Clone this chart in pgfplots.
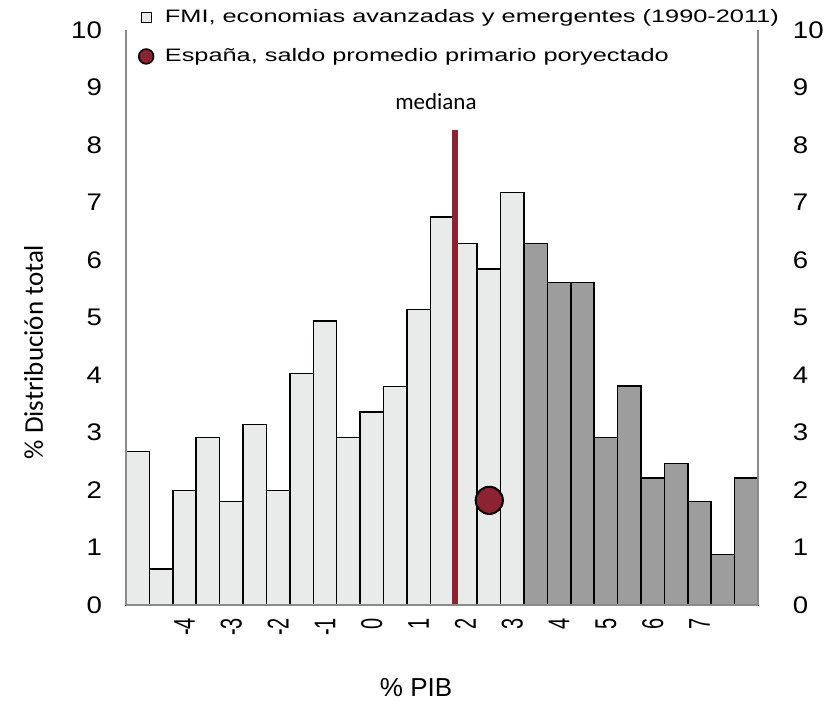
\documentclass[border=0pt]{standalone}
\usepackage{fontspec}
\setmainfont{Liberation Sans}
\newfontfamily\calibri{Carlito}
\usepackage{pgfplots}
\usepackage{pgfplotstable}
\pgfplotsset{compat=1.18}

\definecolor{barlight}{HTML}{E9EAEA}
\definecolor{bardark}{HTML}{9C9D9C}
\definecolor{medred}{HTML}{8B2332}
\definecolor{axgray}{HTML}{8A8A8A}

% histograma: centro de cada barra (% PIB) y porcentaje
\pgfplotstableread{
x h
-5.0 2.67
-4.5 0.63
-4.0 1.99
-3.5 2.91
-3.0 1.80
-2.5 3.14
-2.0 1.99
-1.5 4.03
-1.0 4.94
-0.5 2.91
0.0 3.36
0.5 3.80
1.0 5.14
1.5 6.75
2.0 6.29
2.5 5.84
3.0 7.17
}\lighttab
\pgfplotstableread{
x h
3.5 6.29
4.0 5.61
4.5 5.61
5.0 2.91
5.5 3.81
6.0 2.21
6.5 2.46
7.0 1.80
7.5 0.88
8.0 2.21
}\darktab

\begin{document}
\begin{tikzpicture}
\path (-63bp,-48bp) rectangle (351.5bp,302.5bp);
\begin{axis}[
  at={(0,0)}, anchor=south west,
  scale only axis,
  width=316bp, height=287.5bp,
  xmin=-5.25, xmax=8.25,
  ymin=0, ymax=10,
  axis on top,
  axis x line*=bottom,
  axis y line*=left,
  axis line style={draw=axgray, line width=1bp, -},
  major tick length=0pt,
  xtick={-4,-3,...,7},
  xticklabels={{-4},{-3},{-2},{-1},0,1,2,3,4,5,6,7},
  ytick={0,1,...,10},
  /pgf/number format/assume math mode=true,
  xticklabel style={yshift=-3bp, font=\fontsize{10bp}{12bp}\selectfont, xscale=1.5, rotate=90, anchor=east},
  yticklabel style={xshift=-8bp, font=\fontsize{12bp}{14bp}\selectfont, xscale=1.15, anchor=east},
  xlabel={\% PIB},
  xlabel style={font=\fontsize{13bp}{15bp}\selectfont, at={(axis description cs:0.459,-0.144)}, anchor=center},
  ylabel={\calibri \% Distribución total},
  ylabel style={font=\fontsize{13.5bp}{16bp}\selectfont, at={(axis description cs:-0.146,0.44)}, anchor=center},
  clip=false,
  legend style={at={(axis description cs:0.0,1.04)}, anchor=north west,
    draw=none, fill=none, font=\fontsize{9bp}{10bp}\selectfont,
    row sep=9.5bp, inner xsep=0pt, inner ysep=0pt,
    nodes={inner sep=1bp}},
  legend cell align=left,
]
\addplot[ybar, bar width=0.5, bar shift=0pt, fill=barlight, draw=black, line width=0.75bp,
  legend image code/.code={\path (0bp,0bp) (17.5bp,0bp);
    \draw[fill=barlight, draw=black, line width=0.5bp] (7bp,-2.5bp) rectangle (12bp,2.5bp);}]
  table[x=x, y=h] {\lighttab};
\addlegendentry{\resizebox{307bp}{\height}{FMI, economias avanzadas y emergentes (1990-2011)}}
\addplot[ybar, bar width=0.5, bar shift=0pt, fill=bardark, draw=black, line width=0.75bp, forget plot]
  table[x=x, y=h] {\darktab};
\addplot[medred, line width=3bp, forget plot] coordinates {(1.78,0) (1.78,8.26)};
\addplot[only marks, mark=*, mark size=6.8bp, mark options={fill=medred, draw=black, line width=1bp},
  legend image code/.code={\path (0bp,0bp) (17.5bp,0bp);
    \fill[medred, draw=black, line width=0.8bp] (9.5bp,0bp) circle (3.7bp);}]
  coordinates {(2.51,1.82)};
\addlegendentry{\resizebox{252bp}{\height}{España, saldo promedio primario poryectado}}
\node[font=\calibri\fontsize{11.5bp}{13bp}\selectfont] at (axis cs:1.37,8.75) {mediana};
\end{axis}
\begin{axis}[
  at={(0,0)}, anchor=south west,
  scale only axis,
  width=316bp, height=287.5bp,
  xmin=-5.25, xmax=8.25,
  ymin=0, ymax=10,
  axis x line=none,
  axis y line*=right,
  axis line style={draw=axgray, line width=1bp, -},
  major tick length=0pt,
  ytick={0,1,...,10},
  /pgf/number format/assume math mode=true,
  yticklabel style={font=\fontsize{12bp}{14bp}\selectfont, inner xsep=0pt, xscale=1.15, xshift=15bp},
]
\addplot[draw=none, forget plot] coordinates {(0,0)};
\end{axis}
\end{tikzpicture}
\end{document}
